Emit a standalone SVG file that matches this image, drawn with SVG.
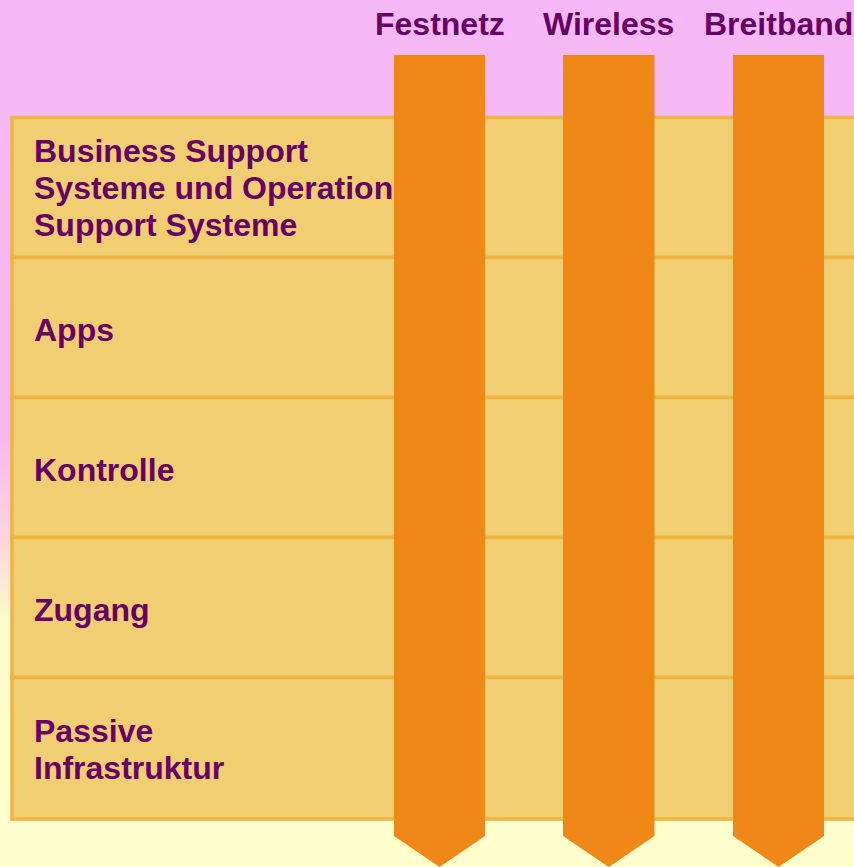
<svg xmlns="http://www.w3.org/2000/svg" width="854" height="867" viewBox="0 0 854 867">
  <defs>
    <linearGradient id="bg" x1="0" y1="0" x2="0" y2="1">
      <stop offset="0" stop-color="#f7b8f7"/>
      <stop offset="0.5" stop-color="#f6b6ef"/>
      <stop offset="0.62" stop-color="#fbd6dc"/>
      <stop offset="0.72" stop-color="#fdfbcc"/>
      <stop offset="1" stop-color="#ffffcc"/>
    </linearGradient>
    <style>
      .row { fill: #f2ce72; stroke: #f0b440; stroke-width: 3.5; }
      .lbl { font-family: "Liberation Sans", Arial, sans-serif; font-weight: bold; font-size: 32px; fill: #660066; }
      .bar { fill: #f08818; }
    </style>
  </defs>
  <rect x="0" y="0" width="854" height="867" fill="url(#bg)"/>

  <g id="rows">
    <g id="row-bss">
      <rect class="row" x="12" y="117.5" width="860" height="140"/>
      <text class="lbl" x="34" y="162">Business Support</text>
      <text class="lbl" x="34" y="199">Systeme und Operation</text>
      <text class="lbl" x="34" y="236">Support Systeme</text>
    </g>
    <g id="row-apps">
      <rect class="row" x="12" y="257.5" width="860" height="140"/>
      <text class="lbl" x="34" y="341">Apps</text>
    </g>
    <g id="row-kontrolle">
      <rect class="row" x="12" y="397.5" width="860" height="140"/>
      <text class="lbl" x="34" y="481">Kontrolle</text>
    </g>
    <g id="row-zugang">
      <rect class="row" x="12" y="537.5" width="860" height="140"/>
      <text class="lbl" x="34" y="621">Zugang</text>
    </g>
    <g id="row-passive">
      <rect class="row" x="12" y="677.5" width="860" height="141.5"/>
      <text class="lbl" x="34" y="742">Passive</text>
      <text class="lbl" x="34" y="779">Infrastruktur</text>
    </g>
  </g>

  <g id="connectors">
    <g id="col-festnetz">
      <text class="lbl" x="375" y="35">Festnetz</text>
      <polygon class="bar" points="394,55 485,55 485,836 439.5,867 394,836"/>
    </g>
    <g id="col-wireless">
      <text class="lbl" x="543" y="35">Wireless</text>
      <polygon class="bar" points="563,55 654.5,55 654.5,836 608.75,867 563,836"/>
    </g>
    <g id="col-breitband">
      <text class="lbl" x="704" y="35">Breitband</text>
      <polygon class="bar" points="733,55 824,55 824,836 778.5,867 733,836"/>
    </g>
  </g>
</svg>
